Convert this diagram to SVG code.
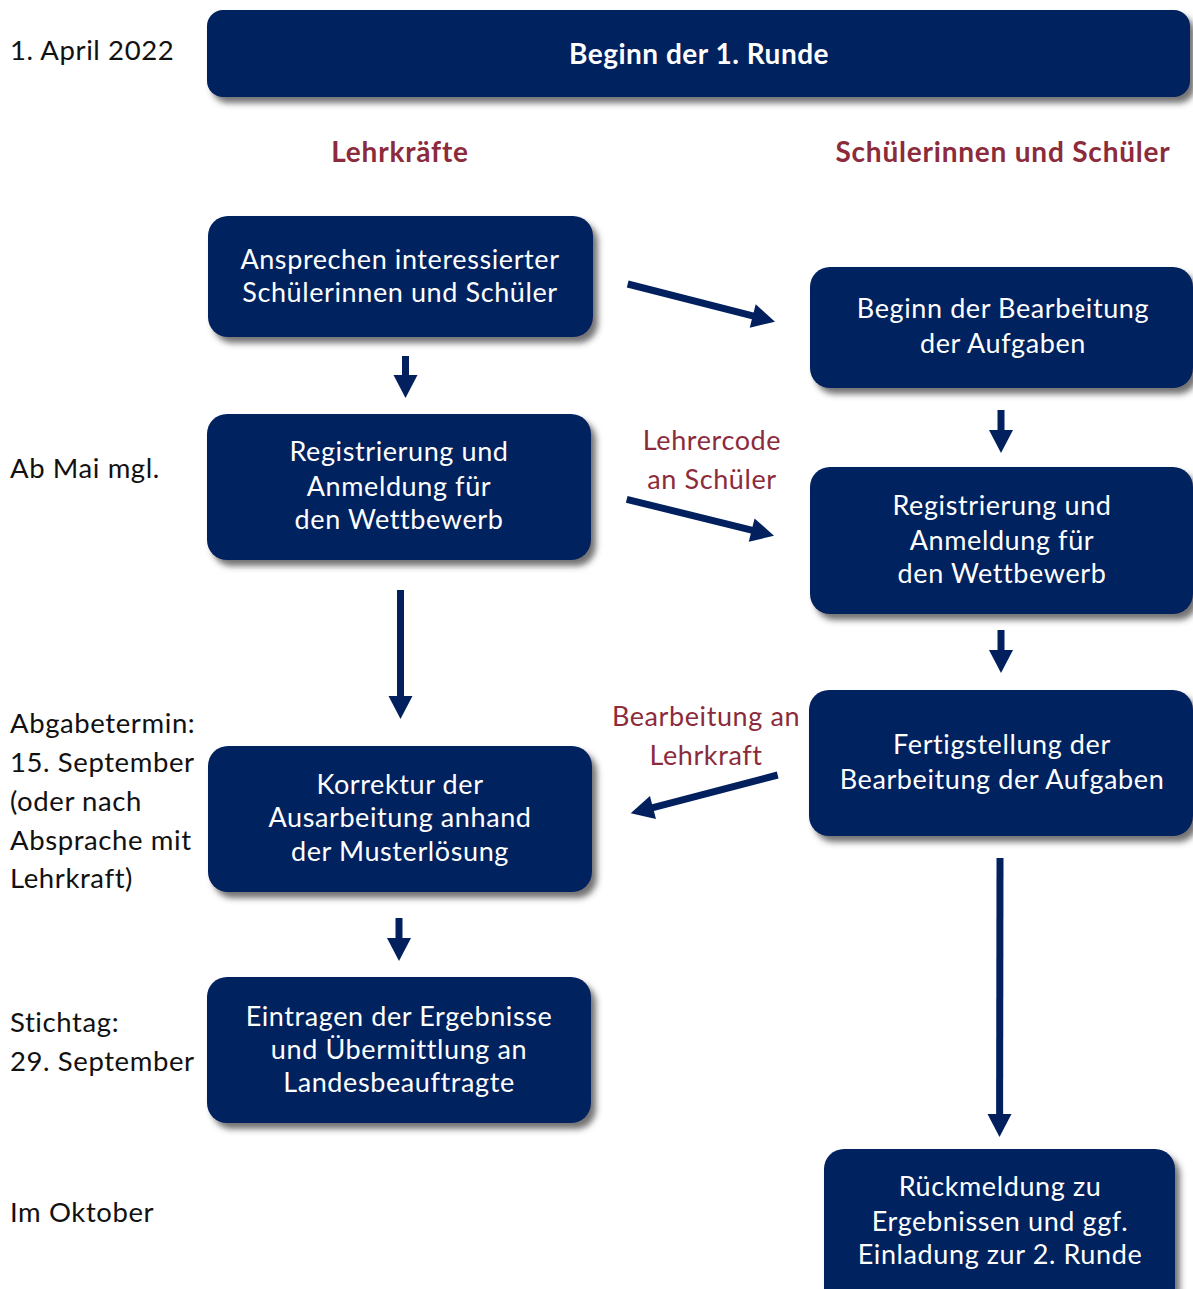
<svg xmlns="http://www.w3.org/2000/svg" width="1193" height="1289" viewBox="0 0 1193 1289">
<defs>
<filter id="sh" x="-10%" y="-10%" width="125%" height="135%">
<feDropShadow dx="5" dy="6" stdDeviation="3" flood-color="#444" flood-opacity="0.75"/>
</filter>
</defs>
<style>
.box{fill:#02205e;filter:url(#sh)}
.bt{font-family:Lato,"Open Sans",sans-serif;font-size:27px;fill:#fff;text-anchor:middle;letter-spacing:0.6px}
.ttl{font-family:Lato,"Open Sans",sans-serif;font-size:28px;font-weight:bold;fill:#fff;text-anchor:middle;letter-spacing:0.5px}
.lbl{font-family:Lato,"Open Sans",sans-serif;font-size:27.5px;fill:#111;letter-spacing:0.6px}
.red{font-family:Lato,"Open Sans",sans-serif;font-size:27px;fill:#8b2b3b;text-anchor:middle;letter-spacing:0.6px}
.hd{font-family:Lato,"Open Sans",sans-serif;font-size:28px;font-weight:bold;fill:#8b2b3b;text-anchor:middle;letter-spacing:0.8px}
.sh{stroke:#02205e;stroke-width:7;fill:none}
.hh{fill:#02205e}
</style>
<rect width="1193" height="1289" fill="#fff"/>
<g id="labels">
<text class="lbl" x="10" y="60">1. April 2022</text>
<text class="lbl" x="10" y="478">Ab Mai mgl.</text>
<text class="lbl" x="10" y="733">Abgabetermin:</text>
<text class="lbl" x="10" y="772">15. September</text>
<text class="lbl" x="10" y="811">(oder nach</text>
<text class="lbl" x="10" y="850">Absprache mit</text>
<text class="lbl" x="10" y="888">Lehrkraft)</text>
<text class="lbl" x="10" y="1032">Stichtag:</text>
<text class="lbl" x="10" y="1071">29. September</text>
<text class="lbl" x="10" y="1222">Im Oktober</text>
<text class="hd" x="400" y="162">Lehrkräfte</text>
<text class="hd" x="1003" y="162">Schülerinnen und Schüler</text>
<text class="red" x="712" y="450">Lehrercode</text>
<text class="red" x="712" y="489">an Schüler</text>
<text class="red" x="706" y="726">Bearbeitung an</text>
<text class="red" x="706" y="765">Lehrkraft</text>
</g>
<g id="header">
<rect class="box" x="207" y="10" width="983" height="87" rx="16"/>
<text class="ttl" x="699" y="64">Beginn der 1. Runde</text>
</g>
<g id="a1">
<rect class="box" x="208" y="216" width="385" height="121" rx="20"/>
<text class="bt" x="400" y="269">Ansprechen interessierter</text>
<text class="bt" x="400" y="302">Schülerinnen und Schüler</text>
</g>
<g id="a2">
<rect class="box" x="207" y="414" width="384" height="146" rx="20"/>
<text class="bt" x="399" y="461">Registrierung und</text>
<text class="bt" x="399" y="496">Anmeldung für</text>
<text class="bt" x="399" y="529">den Wettbewerb</text>
</g>
<g id="a3">
<rect class="box" x="208" y="746" width="384" height="146" rx="20"/>
<text class="bt" x="400" y="794">Korrektur der</text>
<text class="bt" x="400" y="827">Ausarbeitung anhand</text>
<text class="bt" x="400" y="861">der Musterlösung</text>
</g>
<g id="a4">
<rect class="box" x="207" y="977" width="384" height="146" rx="20"/>
<text class="bt" x="399" y="1026">Eintragen der Ergebnisse</text>
<text class="bt" x="399" y="1059">und Übermittlung an</text>
<text class="bt" x="399" y="1092">Landesbeauftragte</text>
</g>
<g id="b1">
<rect class="box" x="810" y="267" width="383" height="121" rx="20"/>
<text class="bt" x="1003" y="318">Beginn der Bearbeitung</text>
<text class="bt" x="1003" y="353">der Aufgaben</text>
</g>
<g id="b2">
<rect class="box" x="810" y="467" width="383" height="147" rx="20"/>
<text class="bt" x="1002" y="515">Registrierung und</text>
<text class="bt" x="1002" y="550">Anmeldung für</text>
<text class="bt" x="1002" y="583">den Wettbewerb</text>
</g>
<g id="b3">
<rect class="box" x="809" y="690" width="384" height="146" rx="20"/>
<text class="bt" x="1002" y="754">Fertigstellung der</text>
<text class="bt" x="1002" y="789">Bearbeitung der Aufgaben</text>
</g>
<g id="b4">
<rect class="box" x="824" y="1149" width="351" height="160" rx="20"/>
<text class="bt" x="1000" y="1196">Rückmeldung zu</text>
<text class="bt" x="1000" y="1231">Ergebnissen und ggf.</text>
<text class="bt" x="1000" y="1264">Einladung zur 2. Runde</text>
</g>
<g id="connectors">
<path class="sh" d="M405.5,356 V376"/>
<path class="hh" d="M393.5,375 H417.5 L405.5,398 Z"/>
<path class="sh" d="M400.5,590 V697"/>
<path class="hh" d="M388.5,696 H412.5 L400.5,719 Z"/>
<path class="sh" d="M399,918 V939"/>
<path class="hh" d="M387,938 H411 L399,961 Z"/>
<path class="sh" d="M1001,410 V431"/>
<path class="hh" d="M989,430 H1013 L1001,453 Z"/>
<path class="sh" d="M1001,630 V651"/>
<path class="hh" d="M989,650 H1013 L1001,673 Z"/>
<path class="sh" d="M1000,858 L999.6,1115"/>
<path class="hh" d="M987.5,1114 H1011.5 L999.5,1137 Z"/>
<path class="sh" d="M627.7,284 L753.7,316.2"/>
<path class="hh" d="M749.75,327.63 L755.69,304.37 L775,321.7 Z"/>
<path class="sh" d="M626.7,499.3 L752.6,530.4"/>
<path class="hh" d="M748.79,541.83 L754.55,518.53 L774,535.7 Z"/>
<path class="sh" d="M777.7,775 L652,807.8"/>
<path class="hh" d="M649.93,795.89 L655.99,819.11 L630.7,813.3 Z"/>
</g>
</svg>
